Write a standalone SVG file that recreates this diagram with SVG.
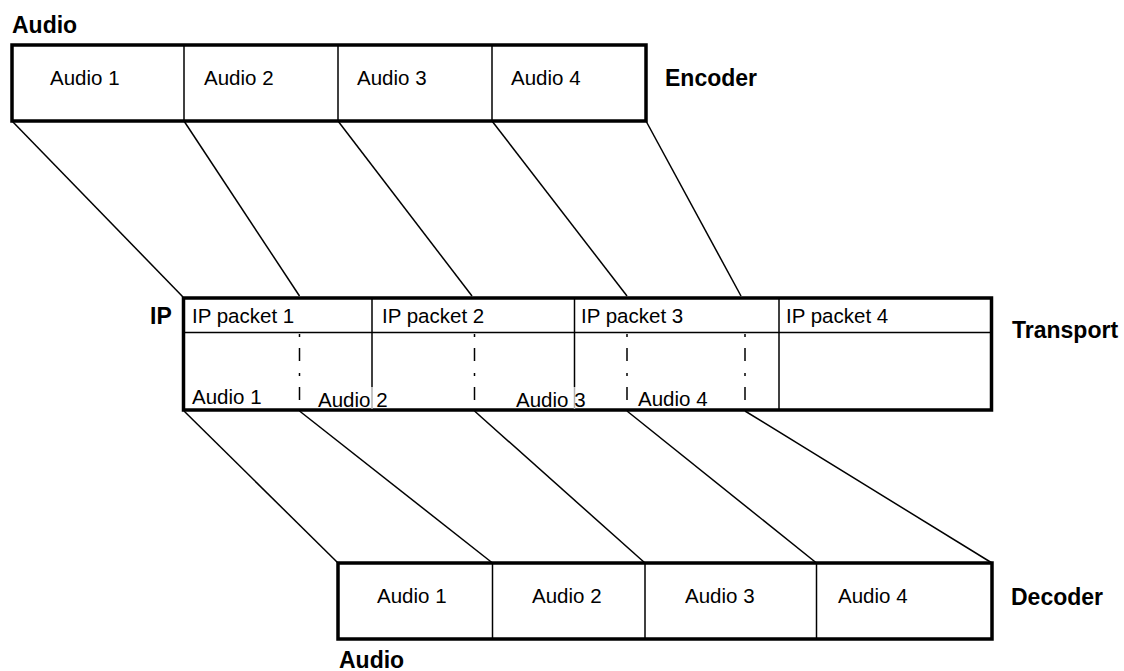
<svg xmlns="http://www.w3.org/2000/svg" width="1124" height="671" viewBox="0 0 1124 671">
<style>
.box{fill:#fff;stroke:#000;stroke-width:3.5}
.div{stroke:#000;stroke-width:1.5;fill:none}
.faint{stroke:#b0b0b0;stroke-width:1.5;fill:none}
.dash{stroke:#000;stroke-width:1.5;fill:none;stroke-dasharray:3 11 13 12}
.con{stroke:#000;stroke-width:1.5;fill:none}
.t{font-family:"Liberation Sans",Arial,sans-serif;font-size:20.5px;fill:#000}
.b{font-family:"Liberation Sans",Arial,sans-serif;font-size:23px;font-weight:bold;fill:#000}
</style>
<rect width="1124" height="671" fill="#fff"/>
<g id="connectors">
<line class="con" x1="12" y1="121" x2="183" y2="297"/>
<line class="con" x1="184" y1="121" x2="299.5" y2="296"/>
<line class="con" x1="338" y1="121" x2="472" y2="296"/>
<line class="con" x1="492" y1="121" x2="627" y2="296"/>
<line class="con" x1="646" y1="121" x2="741" y2="296"/>
<line class="con" x1="184" y1="411" x2="338" y2="563"/>
<line class="con" x1="299.5" y1="411" x2="492.5" y2="563"/>
<line class="con" x1="474.5" y1="411" x2="645" y2="563"/>
<line class="con" x1="627" y1="411" x2="816.5" y2="563"/>
<line class="con" x1="745" y1="411" x2="992" y2="563"/>
</g>
<g id="encoder">
<text class="b" x="12" y="33">Audio</text>
<rect class="box" x="12" y="45" width="634" height="76"/>
<line class="div" x1="184" y1="45" x2="184" y2="121"/>
<line class="div" x1="338" y1="45" x2="338" y2="121"/>
<line class="div" x1="492" y1="45" x2="492" y2="121"/>
<text class="t" x="50" y="85">Audio 1</text>
<text class="t" x="204" y="85">Audio 2</text>
<text class="t" x="357" y="85">Audio 3</text>
<text class="t" x="511" y="85">Audio 4</text>
<text class="b" x="665" y="86">Encoder</text>
</g>
<g id="transport">
<text class="b" x="150" y="324">IP</text>
<rect class="box" x="183.5" y="298" width="808" height="112"/>
<line class="div" x1="183.5" y1="332.5" x2="991.5" y2="332.5"/>
<line class="div" x1="372" y1="298" x2="372" y2="387"/>
<line class="faint" x1="372" y1="387" x2="372" y2="409"/>
<line class="div" x1="574.5" y1="298" x2="574.5" y2="387"/>
<line class="faint" x1="574.5" y1="387" x2="574.5" y2="409"/>
<line class="div" x1="779" y1="298" x2="779" y2="410"/>
<line class="dash" x1="299.5" y1="334" x2="299.5" y2="409"/>
<line class="dash" x1="474.5" y1="334" x2="474.5" y2="409"/>
<line class="dash" x1="627" y1="334" x2="627" y2="409"/>
<line class="dash" x1="745" y1="334" x2="745" y2="409"/>
<text class="t" x="192" y="323">IP packet 1</text>
<text class="t" x="382" y="323">IP packet 2</text>
<text class="t" x="581" y="323">IP packet 3</text>
<text class="t" x="786" y="323">IP packet 4</text>
<text class="t" x="192" y="404">Audio 1</text>
<text class="t" x="318" y="407">Audio 2</text>
<text class="t" x="516" y="407">Audio 3</text>
<text class="t" x="638" y="406">Audio 4</text>
<text class="b" x="1012" y="338">Transport</text>
</g>
<g id="decoder">
<rect class="box" x="338" y="563" width="654" height="76"/>
<line class="div" x1="492.5" y1="563" x2="492.5" y2="639"/>
<line class="div" x1="645" y1="563" x2="645" y2="639"/>
<line class="div" x1="816.5" y1="563" x2="816.5" y2="639"/>
<text class="t" x="377" y="603">Audio 1</text>
<text class="t" x="532" y="603">Audio 2</text>
<text class="t" x="685" y="603">Audio 3</text>
<text class="t" x="838" y="603">Audio 4</text>
<text class="b" x="1011" y="605">Decoder</text>
<text class="b" x="339" y="668">Audio</text>
</g>
</svg>
